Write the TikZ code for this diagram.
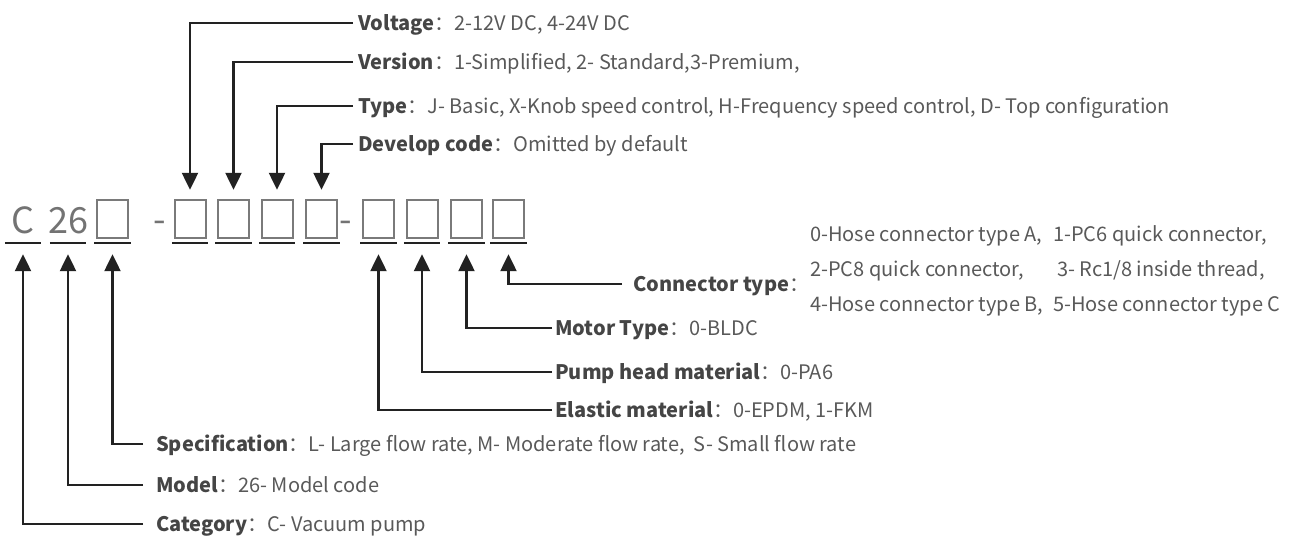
\documentclass[tikz,border=0pt]{standalone}
\usepackage{fontspec}
\setmainfont{Noto Sans CJK SC}
\usetikzlibrary{arrows.meta}
\definecolor{txt}{HTML}{595959}
\definecolor{lblc}{HTML}{454545}
\definecolor{ink}{HTML}{222222}
\definecolor{boxc}{HTML}{7A7A7A}
\definecolor{codec}{HTML}{737373}
\newcommand\mylab[2]{{\bfseries\color{lblc}#1}：#2}
\begin{document}
\begin{tikzpicture}[x=1pt,y=-1pt,
  slot/.style={minimum width=36pt,minimum height=43pt,inner sep=0pt},
  uline/.style={draw=ink, line width=2.4pt},
  cbox/.style={draw=boxc, line width=2pt},
  codetxt/.style={font=\fontsize{36}{36}\selectfont, text=codec, inner sep=0pt},
  arr/.style={draw=ink, line width=2.3pt, -{Triangle[width=16pt,length=17pt]}},
  lab/.style={font=\fontsize{20}{22}\selectfont, text=txt, inner sep=0pt, anchor=west, text height=14.5pt, text depth=0pt},
]
\useasboundingbox (0,0) rectangle (1294,537);
% code slots
\node[slot] (s1) at (23,221.5) {};
\node[slot] (s2) at (68,221.5) {};
\node[slot] (s3) at (112.5,221.5) {};
\node[slot] (s4) at (190,221.5) {};
\node[slot] (s5) at (233.5,221.5) {};
\node[slot] (s6) at (277,221.5) {};
\node[slot] (s7) at (321.5,221.5) {};
\node[slot] (s8) at (378.5,221.5) {};
\node[slot] (s9) at (422,221.5) {};
\node[slot] (s10) at (466.5,221.5) {};
\node[slot] (s11) at (508.5,221.5) {};
\node[codetxt, anchor=base] (cC) at ([yshift=10pt]s1.south) {C};
\node[codetxt, anchor=base] (c26) at ([yshift=10pt]s2.south) {26};
\node[codetxt, anchor=base] (d1) at (159.5,233) {-};
\node[codetxt, anchor=base] (d2) at (345.5,233) {-};
\foreach \s in {s3,s4,s5,s6,s7,s8,s9,s10,s11}{
  \draw[cbox] ([xshift=-15.5pt]\s.north) rectangle ([xshift=15.5pt,yshift=5pt]\s.south);
}
\foreach \s in {s1,s2,s3,s4,s5,s6,s7,s8,s9,s10,s11}{
  \draw[uline] (\s.south west) -- (\s.south east);
}
% top labels
\node[lab] (vol) at (358,23) {\mylab{Voltage}{2-12V DC, 4-24V DC}};
\node[lab] (ver) at (358,62) {\mylab{Version}{1-Simplified, 2- Standard,3-Premium,}};
\node[lab] (typ) at (358,106) {\mylab{Type}{J- Basic, X-Knob speed control, H-Frequency speed control, D- Top configuration}};
\node[lab] (dev) at (358,144) {\mylab{Develop code}{Omitted by default}};
\draw[arr, shorten <=5pt, shorten >=10pt] (vol.west) -| (s4.north);
\draw[arr, shorten <=5pt, shorten >=10pt] (ver.west) -| (s5.north);
\draw[arr, shorten <=5pt, shorten >=10pt] (typ.west) -| (s6.north);
\draw[arr, shorten <=5pt, shorten >=10pt] (dev.west) -| (s7.north);
% connector type
\node[lab] (con) at (633,284) {\mylab{Connector type}{}};
\node[lab] (ct1) at (810,234) {\makebox[243pt][l]{0-Hose connector type A,}1-PC6 quick connector,};
\node[lab] (ct2) at (810,269) {\makebox[247pt][l]{2-PC8 quick connector,}3- Rc1/8 inside thread,};
\node[lab] (ct3) at (810,304) {\makebox[243pt][l]{4-Hose connector type B,}5-Hose connector type C};
\draw[arr, shorten <=11pt, shorten >=11pt] (con.west) -| (s11.south);
% bottom right
\node[lab] (mot) at (555,328) {\mylab{Motor Type}{0-BLDC}};
\node[lab] (pum) at (555,372) {\mylab{Pump head material}{0-PA6}};
\node[lab] (ela) at (555,410) {\mylab{Elastic material}{0-EPDM, 1-FKM}};
\draw[arr, shorten <=3pt, shorten >=11pt] (mot.west) -| (s10.south);
\draw[arr, shorten <=3pt, shorten >=11pt] (pum.west) -| (s9.south);
\draw[arr, shorten <=3pt, shorten >=11pt] (ela.west) -| (s8.south);
% bottom left
\node[lab] (spe) at (156,444) {\mylab{Specification}{L- Large flow rate, M- Moderate flow rate,\ \ S- Small flow rate}};
\node[lab] (mod) at (156,485) {\mylab{Model}{26- Model code}};
\node[lab] (cat) at (156,524) {\mylab{Category}{C- Vacuum pump}};
\draw[arr, shorten <=13pt, shorten >=11pt] (spe.west) -| (s3.south);
\draw[arr, shorten <=13pt, shorten >=11pt] (mod.west) -| (s2.south);
\draw[arr, shorten <=13pt, shorten >=11pt] (cat.west) -| (s1.south);
\end{tikzpicture}
\end{document}
